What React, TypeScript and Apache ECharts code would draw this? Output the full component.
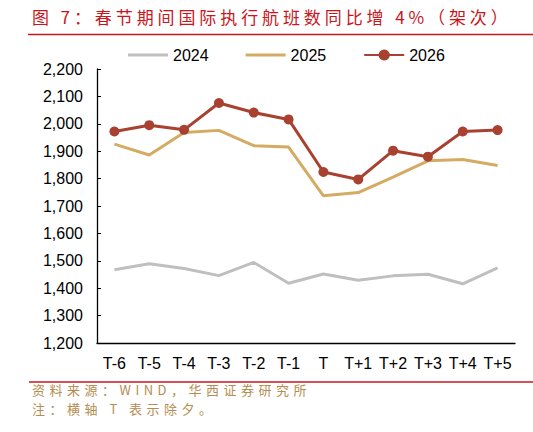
import { useEffect, useRef } from 'react';
import * as echarts from 'echarts';

const categories = ['T-6', 'T-5', 'T-4', 'T-3', 'T-2', 'T-1', 'T', 'T+1', 'T+2', 'T+3', 'T+4', 'T+5'];
const flights2024 = [1467, 1489, 1472, 1446, 1494, 1418, 1452, 1429, 1445, 1451, 1416, 1474];
const flights2025 = [1926, 1886, 1968, 1976, 1920, 1915, 1737, 1749, 1805, 1865, 1870, 1848];
const flights2026 = [1972, 1995, 1978, 2076, 2041, 2016, 1824, 1797, 1902, 1880, 1972, 1977];

const TITLE = '图 7：春节期间国际执行航班数同比增 4%（架次）';
const SOURCE = '资料来源：WIND，华西证券研究所';
const NOTE = '注：横轴 T 表示除夕。';

const LABEL_FONT = '"Liberation Sans", Arial, sans-serif';
const CJK_FONT = '"Noto Sans CJK SC", "Liberation Sans", sans-serif';
const TITLE_RED = '#c8161d';
const NOTE_GOLD = '#b48d52';

// plain line icon for the series drawn without markers
const LINE_ICON = 'path://M0,0H40V3H0Z';

// the report's heading and footnote are set with wide letter spacing
const spacingCss = `
  .fig7 svg text[fill="${TITLE_RED}"] { letter-spacing: 3.9px; }
  .fig7 svg text[fill="${NOTE_GOLD}"] { letter-spacing: 4.5px; }
`;

export default function App() {
  const ref = useRef<HTMLDivElement>(null);

  useEffect(() => {
    if (!ref.current) return;
    const chart = echarts.init(ref.current, undefined, { renderer: 'svg' });

    chart.setOption({
      animation: false,
      backgroundColor: '#fff',
      graphic: [
        {
          type: 'text',
          left: 32,
          top: 8,
          style: { text: TITLE, fill: TITLE_RED, font: `17px ${CJK_FONT}` },
        },
        {
          type: 'line',
          shape: { x1: 28, y1: 34.5, x2: 533, y2: 34.5 },
          style: { stroke: TITLE_RED, lineWidth: 1.5 },
        },
        {
          type: 'line',
          shape: { x1: 29, y1: 382, x2: 533, y2: 382 },
          style: { stroke: TITLE_RED, lineWidth: 1.5 },
        },
        {
          type: 'text',
          left: 32,
          top: 383,
          style: { text: SOURCE, fill: NOTE_GOLD, font: `13px ${CJK_FONT}` },
        },
        {
          type: 'text',
          left: 32,
          top: 402,
          style: { text: NOTE, fill: NOTE_GOLD, font: `13px ${CJK_FONT}` },
        },
      ],
      legend: {
        left: 123,
        top: 42,
        itemWidth: 40,
        itemHeight: 14,
        itemGap: 37,
        textStyle: { fontFamily: LABEL_FONT, fontSize: 16, color: '#000' },
        data: [
          { name: '2024', icon: LINE_ICON },
          { name: '2025', icon: LINE_ICON },
          { name: '2026' },
        ],
      },
      grid: { left: 97, right: 18, top: 69, bottom: 89 },
      xAxis: {
        type: 'category',
        data: categories,
        boundaryGap: true,
        axisLine: { lineStyle: { color: '#000', width: 1.3 } },
        axisTick: { inside: true, length: 5, lineStyle: { color: '#000' } },
        axisLabel: { fontFamily: LABEL_FONT, fontSize: 16, color: '#000', margin: 12, interval: 0 },
      },
      yAxis: {
        type: 'value',
        min: 1200,
        max: 2200,
        interval: 100,
        axisLine: { show: true, lineStyle: { color: '#000', width: 1.3 } },
        axisTick: { show: true, inside: true, length: 4, lineStyle: { color: '#000' } },
        splitLine: { show: false },
        axisLabel: {
          fontFamily: LABEL_FONT,
          fontSize: 16,
          color: '#000',
          margin: 14,
          formatter: (v: number) => v.toLocaleString('en-US'),
        },
      },
      series: [
        {
          name: '2024',
          type: 'line',
          data: flights2024,
          symbol: 'none',
          lineStyle: { color: '#bfbfbf', width: 3 },
          itemStyle: { color: '#bfbfbf' },
        },
        {
          name: '2025',
          type: 'line',
          data: flights2025,
          symbol: 'none',
          lineStyle: { color: '#d4ab63', width: 3 },
          itemStyle: { color: '#d4ab63' },
        },
        {
          name: '2026',
          type: 'line',
          data: flights2026,
          symbol: 'circle',
          symbolSize: 10,
          lineStyle: { color: '#a8412f', width: 3 },
          itemStyle: { color: '#a8412f' },
        },
      ],
    });

    return () => chart.dispose();
  }, []);

  return (
    <>
      <style>{spacingCss}</style>
      <div
        ref={ref}
        className="fig7"
        style={{ position: 'fixed', left: 0, top: 0, width: 533, height: 432 }}
      />
    </>
  );
}
